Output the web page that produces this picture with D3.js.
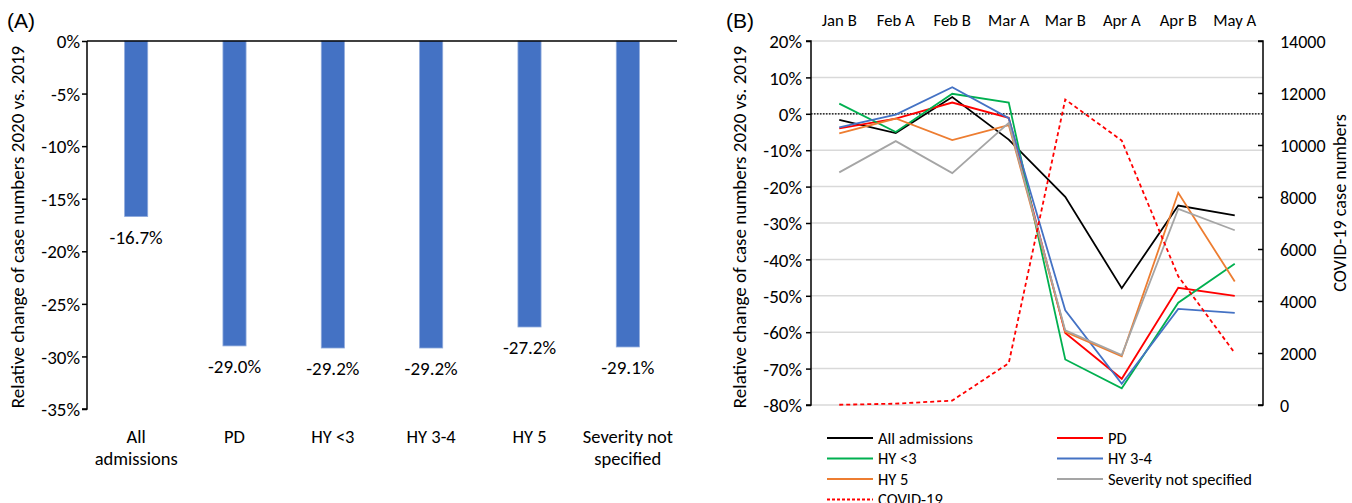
<!DOCTYPE html>
<html>
<head>
<meta charset="utf-8">
<script src="https://cdn.jsdelivr.net/npm/d3@7"></script>
<style>
  body { margin: 0; background: #fff; }
  svg { display: block; }
  .tk { font-family: Calibri, Carlito, Lato, sans-serif; fill: #000; }
  .pnl { font-family: "Liberation Sans", Arial, sans-serif; font-size: 21px; fill: #000; }
</style>
</head>
<body>
<div id="chart"></div>
<script>
// ---------- data ----------
// panel A
const groupsA = ["All admissions", "PD", "HY <3", "HY 3-4", "HY 5", "Severity not specified"];
const groupLabelsA = [["All", "admissions"], ["PD"], ["HY <3"], ["HY 3-4"], ["HY 5"], ["Severity not", "specified"]];
const changeA = [-16.7, -29.0, -29.2, -29.2, -27.2, -29.1];
const ticksA = [0, -5, -10, -15, -20, -25, -30, -35];

// panel B
const periods = ["Jan B", "Feb A", "Feb B", "Mar A", "Mar B", "Apr A", "Apr B", "May A"];
const allAdmissions = [-1.7, -5.3, 4.6, -7.1, -22.8, -47.9, -25.2, -27.9];
const pd = [-4.0, -1.3, 3.1, -1.1, -60.2, -72.8, -47.8, -50.0];
const hyLt3 = [2.8, -5.0, 5.5, 3.1, -67.5, -75.4, -51.9, -41.2];
const hy34 = [-3.7, -0.2, 7.3, -1.2, -54.0, -74.2, -53.6, -54.7];
const hy5 = [-5.4, -1.3, -7.2, -3.1, -59.9, -66.6, -21.7, -46.1];
const severityNS = [-16.1, -7.5, -16.3, -2.5, -59.5, -66.3, -26.1, -32.0];
const covid = [10, 50, 170, 1610, 11750, 10170, 4950, 2000];
const ticksB = [20, 10, 0, -10, -20, -30, -40, -50, -60, -70, -80];
const ticksCovid = [0, 2000, 4000, 6000, 8000, 10000, 12000, 14000];

const seriesB = [
  { name: "All admissions", values: allAdmissions, color: "#000000" },
  { name: "PD", values: pd, color: "#FF0000" },
  { name: "HY <3", values: hyLt3, color: "#00B050" },
  { name: "HY 3-4", values: hy34, color: "#4472C4" },
  { name: "HY 5", values: hy5, color: "#ED7D31" },
  { name: "Severity not specified", values: severityNS, color: "#A5A5A5" }
];

// ---------- svg ----------
const width = 1352, height = 503;
const svg = d3.select("#chart").append("svg").attr("width", width).attr("height", height);

////////////////////////////  Panel A  ////////////////////////////
const xA = d3.scaleBand().domain(groupsA).range([87, 677]);
const yA = d3.scaleLinear().domain([-35, 0]).range([409, 41]);
const barW = xA.bandwidth() * 0.235;

svg.append("text").attr("class", "pnl").attr("x", 7).attr("y", 28).text("(A)");

const axA = svg.append("g").attr("transform", "translate(87,0)")
  .call(d3.axisLeft(yA).tickValues(ticksA).tickSize(5).tickFormat(d => d + "%"));
axA.select(".domain").attr("stroke", "#000").attr("stroke-width", 1.5).attr("d", `M-5,${yA(-35)}H0V${yA(0)}`);
axA.selectAll(".tick line").attr("stroke", "#000").attr("stroke-width", 1.5);
axA.selectAll(".tick text").attr("class", "tk").attr("x", -7).attr("dy", "0.35em")
  .attr("font-family", null).style("font-size", "19px");

svg.selectAll(".barA").data(changeA).join("rect")
  .attr("class", "barA")
  .attr("x", (d, i) => xA(groupsA[i]) + xA.bandwidth() / 2 - barW / 2)
  .attr("y", yA(0))
  .attr("width", barW)
  .attr("height", d => yA(d) - yA(0))
  .attr("fill", "#4472C4")
  .attr("stroke", "#8FAADC")
  .attr("stroke-width", 0.8);

// zero line
svg.append("line").attr("x1", 87).attr("x2", 677).attr("y1", yA(0)).attr("y2", yA(0))
  .attr("stroke", "#000").attr("stroke-width", 1.5);

svg.selectAll(".lblA").data(changeA).join("text")
  .attr("class", "tk").style("font-size", "19px")
  .attr("x", (d, i) => xA(groupsA[i]) + xA.bandwidth() / 2)
  .attr("y", d => yA(d) + 27)
  .attr("text-anchor", "middle")
  .text(d => d.toFixed(1) + "%");

groupLabelsA.forEach((lines, i) => {
  const mx = xA(groupsA[i]) + xA.bandwidth() / 2;
  const t = svg.append("text").attr("class", "tk").style("font-size", "18.5px")
    .attr("text-anchor", "middle").attr("x", mx).attr("y", 443);
  lines.forEach((l, j) => t.append("tspan").attr("x", mx).attr("dy", j ? 22 : 0).text(l));
});

svg.append("text").attr("class", "tk").style("font-size", "19px").attr("text-anchor", "middle")
  .attr("transform", `translate(24,${(yA(0) + yA(-35)) / 2 + 2}) rotate(-90)`)
  .text("Relative change of case numbers 2020 vs. 2019");

////////////////////////////  Panel B  ////////////////////////////
const xB = d3.scaleBand().domain(periods).range([811, 1263]);
const yB = d3.scaleLinear().domain([-80, 20]).range([405, 41]);
const yC = d3.scaleLinear().domain([0, 14000]).range([405, 41]);
const cx = p => xB(p) + xB.bandwidth() / 2;

svg.append("text").attr("class", "pnl").attr("x", 726).attr("y", 28).text("(B)");

// gridlines
svg.selectAll(".gridB").data(ticksB).join("line")
  .attr("x1", 811).attr("x2", 1263)
  .attr("y1", d => yB(d)).attr("y2", d => yB(d))
  .attr("stroke", "#D9D9D9").attr("stroke-width", 1.5);

// zero dotted
svg.append("line").attr("x1", 811).attr("x2", 1263).attr("y1", yB(0)).attr("y2", yB(0))
  .attr("stroke", "#000").attr("stroke-width", 1.3).attr("stroke-dasharray", "1.5,1.5");

// top period labels
svg.selectAll(".perB").data(periods).join("text")
  .attr("class", "tk").style("font-size", "16.7px").attr("text-anchor", "middle")
  .attr("x", cx).attr("y", 26).text(d => d);

const axB = svg.append("g").attr("transform", "translate(811,0)")
  .call(d3.axisLeft(yB).tickValues(ticksB).tickSize(5).tickFormat(d => d + "%"));
axB.select(".domain").attr("stroke", "#000").attr("stroke-width", 1.5).attr("d", `M-5,${yB(-80)}H0V${yB(20)}H-5`);
axB.selectAll(".tick line").attr("stroke", "#000").attr("stroke-width", 1.5);
axB.selectAll(".tick text").attr("class", "tk").attr("x", -9).attr("dy", "0.35em")
  .attr("font-family", null).style("font-size", "19px");

const axC = svg.append("g").attr("transform", "translate(1263,0)")
  .call(d3.axisRight(yC).tickValues(ticksCovid).tickSize(-5).tickFormat(d3.format("d")));
axC.select(".domain").attr("stroke", "#000").attr("stroke-width", 1.5).attr("d", `M-5,${yC(0)}H0V${yC(14000)}H-5`);
axC.selectAll(".tick line").attr("stroke", "#000").attr("stroke-width", 1.5);
axC.selectAll(".tick text").attr("class", "tk").attr("x", 17).attr("dy", "0.35em")
  .attr("font-family", null).style("font-size", "18px");

const lineB = d3.line().x((d, i) => cx(periods[i])).y(d => yB(d));
svg.selectAll(".serB").data(seriesB).join("path")
  .attr("fill", "none")
  .attr("stroke", d => d.color)
  .attr("stroke-width", 1.8)
  .attr("d", d => lineB(d.values));

const lineC = d3.line().x((d, i) => cx(periods[i])).y(d => yC(d));
svg.append("path").datum(covid)
  .attr("fill", "none").attr("stroke", "#FF0000").attr("stroke-width", 1.8)
  .attr("stroke-dasharray", "4,3")
  .attr("d", lineC);

svg.append("text").attr("class", "tk").style("font-size", "19px").attr("text-anchor", "middle")
  .attr("transform", `translate(746,${(yB(20) + yB(-80)) / 2 + 4}) rotate(-90)`)
  .text("Relative change of case numbers 2020 vs. 2019");
svg.append("text").attr("class", "tk").style("font-size", "18.2px").attr("text-anchor", "middle")
  .attr("transform", `translate(1346,203) rotate(-90)`)
  .text("COVID-19 case numbers");

// legend
const legendItems = seriesB.map(s => ({ name: s.name, color: s.color, dash: null }))
  .concat([{ name: "COVID-19", color: "#FF0000", dash: "3,2" }]);
const legX = [827, 1057], legY0 = 438, legDy = 20.5;
const leg = svg.selectAll(".leg").data(legendItems).join("g")
  .attr("transform", (d, i) => `translate(${legX[i % 2]},${legY0 + Math.floor(i / 2) * legDy})`);
leg.append("line").attr("x1", 0).attr("x2", 46).attr("y1", 0).attr("y2", 0)
  .attr("stroke", d => d.color).attr("stroke-width", 1.8)
  .attr("stroke-dasharray", d => d.dash);
leg.append("text").attr("class", "tk").style("font-size", "16.5px")
  .attr("x", 51).attr("dy", "0.35em").text(d => d.name);
</script>
</body>
</html>
